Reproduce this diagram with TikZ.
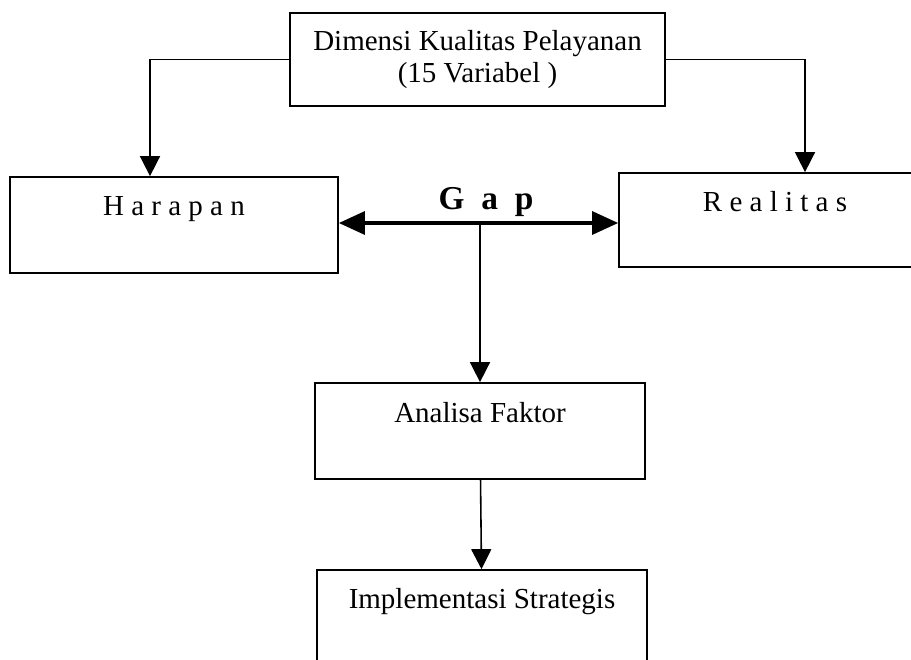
\documentclass[tikz,border=0pt]{standalone}
\usepackage{fontspec}
\setmainfont{Liberation Serif}
\usetikzlibrary{arrows.meta}

\begin{document}
\begin{tikzpicture}[x=0.02cm, y=-0.02cm,
        box/.style={rectangle, draw, line width=1pt, inner sep=0pt, font=\fontsize{16.5}{18.5}\selectfont},
        arr/.style={-{Triangle[length=0.4cm,width=0.4cm]}, line width=0.9pt},
        gaparr/.style={{Triangle[length=0.52cm,width=0.46cm]}-{Triangle[length=0.52cm,width=0.46cm]}, line width=1.8pt}]
        \useasboundingbox (0,0) rectangle (911,659);

        % Boxes
        \node at (477.5,59.5) [box, minimum width=7.5cm, minimum height=1.86cm, align=center] (D) {Dimensi Kualitas Pelayanan\\(15 Variabel )};
        \node at (174,225) [box, minimum width=6.56cm, text height=0.76cm, text depth=1.16cm] (H) {H a r a p a n};
        \node at (775,220) [box, minimum width=6.24cm, text height=0.76cm, text depth=1.12cm] (R) {R e a l i t a s};
        \node at (480,431) [box, minimum width=6.6cm, text height=0.78cm, text depth=1.14cm] (A) {Analisa Faktor};
        \node at (482,618) [box, minimum width=6.6cm, text height=0.76cm, text depth=1.16cm] (I) {Implementasi Strategis};

        % Gap
        \node at (486,202) [font=\bfseries\fontsize{19}{21}\selectfont] (G) {G\hspace{0.5em}a\hspace{0.5em}p};
        \coordinate (M) at (480,223);

        % Arrows
        \draw[gaparr] (H.east |- M) -- (R.west |- M);
        \draw[arr] (M) -- (A.north);
        \draw[arr] (A) -- (I);
        \draw[arr] (D.west) -| ([xshift=-0.48cm]H.north);
        \draw[arr] (D.east) -| ([xshift=0.6cm]R.north);

\end{tikzpicture}
\end{document}
